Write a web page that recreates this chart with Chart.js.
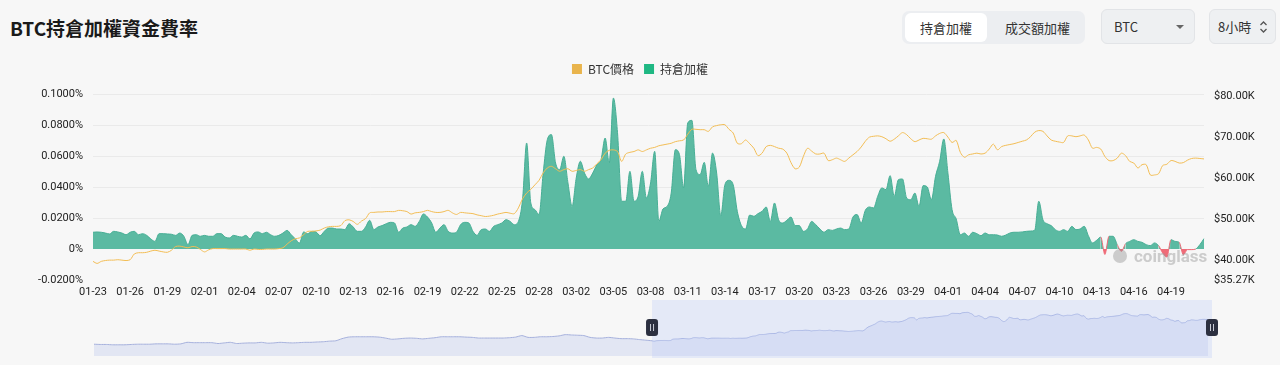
<!DOCTYPE html>
<html>
<head>
<meta charset="utf-8">
<script src="https://cdn.jsdelivr.net/npm/chart.js@4.4.1/dist/chart.umd.min.js"></script>
<style>
  body { margin: 0; width: 1280px; height: 365px; overflow: hidden; background: #f7f7f7; position: relative;
         font-family: 'Noto Sans CJK TC', 'Noto Sans', sans-serif; color: #222; }
  .title { position: absolute; left: 10px; top: 14px; font-size: 19px; font-weight: 700; color: #1a1a1a; }
  .seg { position: absolute; left: 902px; top: 11px; width: 183px; height: 33px; background: #eceef1; border-radius: 7px; }
  .seg span { position: absolute; top: 0; height: 33px; line-height: 33px; font-size: 13px; color: #333; text-align: center; }
  .seg .on { left: 3px; top: 2px; width: 82px; height: 29px; line-height: 29px; background: #fff; border-radius: 6px; }
  .sel { position: absolute; top: 9px; height: 33px; background: #eef0f2; border: 1px solid #e2e4e7; border-radius: 6px;
         font-size: 13px; line-height: 33px; color: #333; }
  #mainWrap { position: absolute; left: 0; top: 53px; }
  #navWrap { position: absolute; left: 0; top: 300px; }
</style>
</head>
<body>
<div class="title">BTC持倉加權資金費率</div>
<div class="seg">
  <span class="on">持倉加權</span>
  <span style="left:88px;width:95px;">成交額加權</span>
</div>
<div class="sel" style="left:1101px;width:92px;">
  <span style="position:absolute;left:12px;">BTC</span>
  <span style="position:absolute;left:74px;top:15px;width:0;height:0;border-left:4px solid transparent;border-right:4px solid transparent;border-top:4px solid #666;"></span>
</div>
<div class="sel" style="left:1209px;width:65px;">
  <span style="position:absolute;left:8px;">8小時</span>
  <svg style="position:absolute;left:49px;top:10px;" width="9" height="14" viewBox="0 0 9 14">
    <path d="M1.5 5 L4.5 2 L7.5 5 M1.5 9 L4.5 12 L7.5 9" fill="none" stroke="#555" stroke-width="1.3"/>
  </svg>
</div>
<div id="mainWrap"><canvas id="main" width="1280" height="252"></canvas></div>
<div id="navWrap"><canvas id="nav" width="1280" height="65"></canvas></div>

<script>
// 8小時資金費率 (%), 01-23 00:00 起每 8 小時一筆
const FUNDING = [
  0.0108,0.0110,0.0108,0.0103,0.0097,0.0114,0.0110,0.0103,0.0092,0.0108,
  0.0114,0.0092,0.0099,0.0088,0.0065,0.0049,0.0099,0.0099,0.0097,0.0095,
  0.0088,0.0103,0.0082,0.0028,0.0088,0.0092,0.0082,0.0088,0.0082,0.0082,
  0.0099,0.0099,0.0077,0.0071,0.0088,0.0082,0.0077,0.0088,0.0065,0.0103,
  0.0110,0.0099,0.0108,0.0092,0.0082,0.0088,0.0103,0.0120,0.0092,0.0065,
  0.0039,0.0110,0.0099,0.0114,0.0110,0.0086,0.0114,0.0135,0.0135,0.0129,
  0.0129,0.0125,0.0163,0.0142,0.0114,0.0114,0.0142,0.0185,0.0125,0.0142,
  0.0151,0.0163,0.0172,0.0168,0.0108,0.0135,0.0142,0.0157,0.0146,0.0178,
  0.0226,0.0206,0.0168,0.0108,0.0135,0.0157,0.0114,0.0103,0.0108,0.0157,
  0.0172,0.0168,0.0114,0.0088,0.0125,0.0129,0.0114,0.0146,0.0157,0.0168,
  0.0189,0.0178,0.0157,0.0178,0.0318,0.0684,0.0297,0.0254,0.0222,0.0490,
  0.0705,0.0738,0.0555,0.0512,0.0598,0.0426,0.0275,0.0458,0.0566,0.0490,
  0.0452,0.0490,0.0544,0.0576,0.0716,0.0555,0.0974,0.0750,0.0308,0.0308,
  0.0501,0.0308,0.0340,0.0501,0.0329,0.0426,0.0630,0.0178,0.0258,0.0275,
  0.0361,0.0641,0.0609,0.0394,0.0813,0.0830,0.0512,0.0480,0.0559,0.0404,
  0.0619,0.0490,0.0215,0.0415,0.0443,0.0415,0.0243,0.0151,0.0129,0.0219,
  0.0211,0.0228,0.0243,0.0271,0.0178,0.0297,0.0189,0.0168,0.0185,0.0206,
  0.0151,0.0151,0.0114,0.0129,0.0178,0.0157,0.0129,0.0108,0.0125,0.0120,
  0.0129,0.0135,0.0125,0.0129,0.0206,0.0222,0.0168,0.0250,0.0271,0.0265,
  0.0340,0.0394,0.0383,0.0473,0.0340,0.0447,0.0452,0.0329,0.0318,0.0361,
  0.0275,0.0409,0.0400,0.0318,0.0469,0.0566,0.0710,0.0490,0.0254,0.0194,
  0.0092,0.0103,0.0082,0.0108,0.0099,0.0086,0.0103,0.0092,0.0092,0.0090,
  0.0082,0.0090,0.0103,0.0108,0.0108,0.0110,0.0114,0.0116,0.0120,0.0308,
  0.0189,0.0163,0.0151,0.0125,0.0114,0.0125,0.0114,0.0146,0.0125,0.0129,
  0.0146,0.0086,0.0039,0.0056,0.0077,-0.0035,0.0082,0.0082,0.0028,-0.0015,
  0.0034,0.0049,0.0060,0.0049,0.0043,0.0028,0.0022,0.0039,0.0022,-0.0026,
  -0.0052,0.0060,0.0049,0.0043,-0.0037,-0.0004,-0.0004,0.0000,0.0028,0.0067
];

// BTC 價格 (千美元), 同樣每 8 小時
const PRICE_K = [
  39.8,39.3,39.8,40.0,40.1,40.1,40.2,40.1,40.0,40.2,
  41.6,41.9,41.9,42.0,42.3,42.5,42.3,42.1,42.0,42.5,
  43.4,43.5,43.3,43.1,43.4,43.3,42.7,42.1,42.6,42.9,
  42.9,42.9,42.9,42.8,42.8,42.8,42.8,42.8,42.5,42.8,
  42.7,42.7,42.8,42.8,42.8,42.9,43.1,44.0,44.8,45.3,
  45.5,46.3,47.1,47.1,47.2,47.4,47.9,48.2,48.3,48.3,
  48.5,49.7,49.9,49.5,48.8,49.6,50.2,51.6,51.7,51.8,
  51.8,51.9,51.9,51.9,52.2,52.1,51.9,51.3,51.6,51.7,
  51.9,52.2,51.9,51.7,51.7,51.9,52.2,51.6,51.2,51.7,
  51.6,51.5,51.4,51.1,50.9,50.7,50.8,51.0,51.3,51.5,
  51.7,51.5,51.4,52.8,55.0,56.4,57.3,58.4,59.5,61.3,
  62.5,62.9,62.3,61.7,62.1,62.3,61.7,61.9,62.1,61.7,
  62.1,62.5,63.5,64.5,66.1,66.8,66.9,66.5,64.1,65.9,
  66.3,66.5,66.9,66.5,66.9,67.3,67.5,67.9,68.1,68.3,
  68.5,68.9,69.1,69.3,70.7,71.9,71.9,71.8,71.8,71.4,
  72.5,72.8,73.0,73.0,71.9,71.0,68.5,68.4,69.3,68.4,
  67.3,65.5,66.1,67.7,68.0,67.7,67.3,67.1,66.1,63.8,
  62.3,62.7,65.3,67.3,66.6,65.9,65.9,66.1,64.3,64.5,
  64.9,64.5,64.1,64.9,65.7,66.5,67.6,69.0,70.0,70.2,
  70.3,70.1,69.6,69.0,69.5,70.3,71.1,70.6,69.6,68.9,
  69.3,69.7,69.6,69.5,70.3,70.9,71.1,70.0,68.7,69.2,
  66.3,65.1,65.7,65.9,66.1,65.9,66.1,67.1,68.3,66.9,
  67.7,68.0,68.2,68.4,68.7,69.0,69.3,70.1,71.2,71.6,
  71.4,70.3,69.3,69.0,68.8,68.7,70.3,70.3,70.1,70.3,
  70.5,69.3,67.3,67.5,67.1,65.3,64.3,64.3,64.9,66.1,
  65.5,64.1,63.7,62.5,63.3,63.3,60.8,60.8,61.1,63.1,
  63.4,64.3,64.1,63.7,63.8,64.4,64.8,64.9,64.8,64.7
];

// 縮略圖中較早的每日價格 (千美元), 10-25 至 01-22
const NAV_OLD_K = [
  35.8,35.5,35.5,35.1,35.1,35.1,35.5,35.8,35.8,35.8,
  36.2,36.2,36.2,35.8,36.2,38.0,37.6,37.6,37.6,37.6,
  36.6,37.3,38.0,36.6,37.0,37.3,37.3,38.0,37.0,37.3,
  38.0,37.6,37.3,37.6,38.0,38.0,38.4,38.7,39.4,39.8,
  42.3,44.1,44.5,44.5,44.5,44.5,44.1,43.0,41.6,42.0,
  42.7,43.0,42.7,42.0,42.7,43.4,44.5,44.5,44.5,44.5,
  44.1,43.8,43.0,43.0,43.0,43.0,43.0,43.4,44.1,45.9,
  43.8,43.8,44.5,44.5,44.8,45.5,47.0,46.6,46.3,45.9,
  43.8,43.0,43.0,43.8,43.0,42.3,42.3,42.0,41.2,40.5
];

const TICK_LABELS = ['01-23','01-26','01-29','02-01','02-04','02-07','02-10','02-13','02-16','02-19',
  '02-22','02-25','02-28','03-02','03-05','03-08','03-11','03-14','03-17','03-20',
  '03-23','03-26','03-29','04-01','04-04','04-07','04-10','04-13','04-16','04-19'];
const LEFT_TICKS = [-0.02, 0, 0.02, 0.04, 0.06, 0.08, 0.1];
const RIGHT_TICKS = [35.27, 40, 50, 60, 70, 80];
const SERIES_NAMES = ['BTC價格', '持倉加權'];
const LEGEND_COLORS = ['#e9b44c', '#1fb883'];

const pad2 = n => String(n).padStart(2, '0');
const LABELS = FUNDING.map((_, i) => {
  const d = new Date(2024, 0, 23 + Math.floor(i / 3), (i % 3) * 8);
  return pad2(d.getMonth() + 1) + '-' + pad2(d.getDate()) + ' ' + pad2(d.getHours()) + ':00';
});

const tickFont = { family: 'Roboto', size: 11 };
const TEAL = '#5bbaa2';
const RED = '#ef6b78';

// 圖例下方多留一點空間
const legendSpacer = {
  id: 'legendSpacer',
  beforeInit(chart) {
    const fit = chart.legend.fit;
    chart.legend.fit = function () {
      fit.bind(chart.legend)();
      this.height += 9;
    };
  }
};

const watermark = {
  id: 'watermark',
  afterDatasetsDraw(chart) {
    const ctx = chart.ctx;
    const a = chart.chartArea;
    ctx.save();
    ctx.fillStyle = 'rgba(150,150,150,0.45)';
    ctx.beginPath();
    ctx.arc(a.right - 84, a.bottom - 24, 7, 0, Math.PI * 2);
    ctx.fill();
    ctx.font = 'bold 17px Roboto';
    ctx.textBaseline = 'middle';
    ctx.fillText('coinglass', a.right - 70, a.bottom - 22);
    ctx.restore();
  }
};

new Chart(document.getElementById('main'), {
  type: 'line',
  data: {
    labels: LABELS,
    datasets: [
      {
        label: SERIES_NAMES[0],
        data: PRICE_K,
        yAxisID: 'y1',
        borderColor: '#f2bd55',
        backgroundColor: LEGEND_COLORS[0],
        borderWidth: 1,
        pointRadius: 0,
        tension: 0.3,
        fill: false,
        order: 0
      },
      {
        label: SERIES_NAMES[1],
        data: FUNDING,
        yAxisID: 'y',
        borderColor: '#48ae95',
        backgroundColor: LEGEND_COLORS[1],
        borderWidth: 1,
        pointRadius: 0,
        cubicInterpolationMode: 'monotone',
        fill: { target: 'origin', above: TEAL, below: RED },
        segment: {
          borderColor: c => (c.p0.parsed.y < 0 || c.p1.parsed.y < 0) ? RED : '#48ae95'
        },
        order: 1
      }
    ]
  },
  options: {
    responsive: false,
    animation: false,
    devicePixelRatio: 1,
    events: [],
    layout: { padding: 0 },
    plugins: {
      legend: {
        position: 'top',
        labels: {
          boxWidth: 10, boxHeight: 10, padding: 10, color: '#333',
          font: { family: "'Noto Sans CJK TC'", size: 12 },
          generateLabels: chart => chart.data.datasets.map((ds, i) => ({
            text: ds.label, fillStyle: LEGEND_COLORS[i], strokeStyle: LEGEND_COLORS[i],
            lineWidth: 0, hidden: false, datasetIndex: i, fontColor: '#333'
          }))
        }
      },
      tooltip: { enabled: false }
    },
    scales: {
      x: {
        afterFit: s => { s.height = 25; },
        grid: { display: false, drawTicks: false },
        border: { display: false },
        ticks: {
          autoSkip: false, maxRotation: 0, padding: 6, color: '#222', font: tickFont,
          callback: (v, idx) => idx % 9 === 0 ? TICK_LABELS[idx / 9] : null
        }
      },
      y: {
        position: 'left',
        min: -0.02, max: 0.1,
        afterBuildTicks: s => { s.ticks = LEFT_TICKS.map(v => ({ value: v })); },
        afterFit: s => { s.width = 93; },
        grid: {
          drawTicks: false,
          color: c => (c.tick && c.tick.value > 0) ? '#eaeaea' : 'rgba(0,0,0,0)'
        },
        border: { display: false },
        ticks: {
          padding: 10, color: '#222', font: tickFont,
          callback: v => v === 0 ? '0%' : v.toFixed(4) + '%'
        }
      },
      y1: {
        position: 'right',
        min: 35.27, max: 80.48,
        afterBuildTicks: s => { s.ticks = RIGHT_TICKS.map(v => ({ value: v })); },
        afterFit: s => { s.width = 76; },
        grid: { display: false, drawTicks: false },
        border: { display: false },
        ticks: {
          padding: 10, color: '#222', font: tickFont,
          callback: v => '$' + v.toFixed(2) + 'K'
        }
      }
    }
  },
  plugins: [legendSpacer, watermark]
});

// 縮略圖: 早期每日價格 + 目前區間 8 小時價格
const navPoints = NAV_OLD_K.map((v, k) => ({ x: k - NAV_OLD_K.length, y: v }))
  .concat(PRICE_K.map((v, i) => ({ x: i / 3, y: v })));
const SEL_START = 0, SEL_END = (PRICE_K.length - 1) / 3;

const navOverlay = {
  id: 'navOverlay',
  afterDatasetsDraw(chart) {
    const ctx = chart.ctx;
    const xs = chart.scales.x;
    const a = chart.chartArea;
    const x0 = xs.getPixelForValue(SEL_START);
    const x1 = xs.getPixelForValue(SEL_END) + 4;
    ctx.save();
    ctx.fillStyle = 'rgba(190,205,250,0.32)';
    ctx.fillRect(x0, 0, x1 - x0, a.bottom + 2);
    [x0, x1].forEach(x => {
      ctx.fillStyle = '#2c3040';
      ctx.beginPath();
      ctx.roundRect(x - 6, 19, 12, 17, 3);
      ctx.fill();
      ctx.strokeStyle = '#c9ccd6';
      ctx.lineWidth = 1;
      ctx.beginPath();
      ctx.moveTo(x - 1.5, 24); ctx.lineTo(x - 1.5, 31);
      ctx.moveTo(x + 1.5, 24); ctx.lineTo(x + 1.5, 31);
      ctx.stroke();
    });
    ctx.restore();
  }
};

new Chart(document.getElementById('nav'), {
  type: 'line',
  data: {
    datasets: [{
      data: navPoints,
      borderColor: '#a5b0dc',
      borderWidth: 1,
      backgroundColor: 'rgba(200,208,238,0.45)',
      fill: 'start',
      pointRadius: 0,
      tension: 0.2
    }]
  },
  options: {
    responsive: false,
    animation: false,
    devicePixelRatio: 1,
    events: [],
    layout: { padding: { left: 94, right: 72, top: 3, bottom: 9 } },
    plugins: { legend: { display: false }, tooltip: { enabled: false } },
    scales: {
      x: { type: 'linear', min: -NAV_OLD_K.length, max: SEL_END, display: false },
      y: { min: 22, max: 84, display: false }
    }
  },
  plugins: [navOverlay]
});
</script>
</body>
</html>
